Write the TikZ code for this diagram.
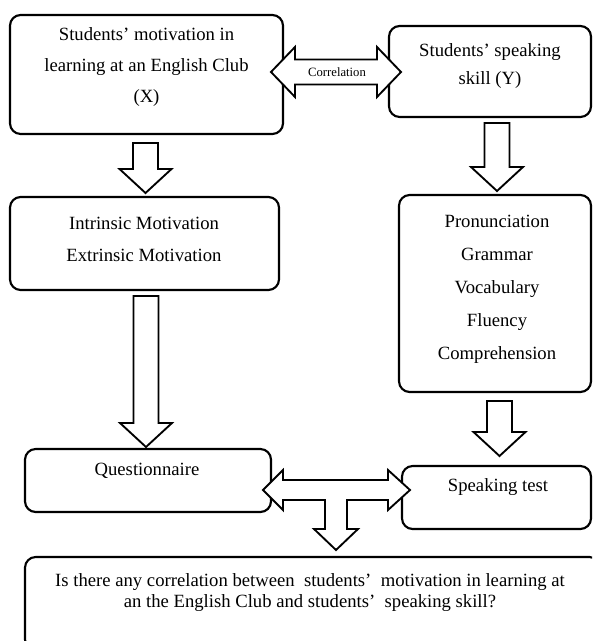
\documentclass[tikz,border=0pt]{standalone}
\usepackage{fontspec}
\setmainfont{Liberation Serif}
\usetikzlibrary{calc}

\tikzset{
  box/.style={draw=black, line width=1.6pt, rounded corners=8pt, inner sep=0pt},
  fat/.style={draw=black, line width=1.4pt, fill=white, line join=miter},
  txt/.style={align=center, inner sep=0pt, font=\fontsize{14}{23}\selectfont},
}

% fat block arrow pointing down, from top point #1 to tip #2
\newcommand{\fatdown}[2]{%
  \draw[fat] ($(#1)+(-12.5,0)$) -- ($(#1)+(12.5,0)$) -- ($(#2)+(12.5,-24)$)
    -- ($(#2)+(26,-24)$) -- (#2) -- ($(#2)+(-26,-24)$) -- ($(#2)+(-12.5,-24)$) -- cycle;}

\begin{document}
\begin{tikzpicture}[x=0.75pt, y=-0.75pt]

\clip (0,0) rectangle (592,641);

% variables
\node[box, minimum width=204.75pt, minimum height=89.25pt] (motiv) at (146.5,74.5) {};
\node[txt, font=\fontsize{14}{22.9}\selectfont] (motivtext) at (146.5,67) {Students’ motivation in\\learning at an English Club\\(X)};

\node[box, minimum width=151.5pt, minimum height=68.25pt] (speak) at (490,71.5) {};
\node[txt, font=\fontsize{14}{21}\selectfont] (speaktext) at (490,66) {Students’ speaking\\skill (Y)};

% indicators
\node[box, minimum width=201.75pt, minimum height=69.75pt] (intr) at (144.5,243.5) {};
\node[txt, font=\fontsize{14}{24}\selectfont] (intrtext) at (144,239) {Intrinsic Motivation\\Extrinsic Motivation};

\node[box, minimum width=144pt, minimum height=147.75pt] (compo) at (495,293.5) {};
\node[txt, font=\fontsize{14}{24.75}\selectfont] (compotext) at (497,289) {Pronunciation\\Grammar\\Vocabulary\\Fluency\\Comprehension};

% instruments
\node[box, minimum width=184.5pt, minimum height=47.25pt] (quest) at (148,480.5) {};
\node[txt] (questtext) at (147,471) {Questionnaire};

\node[box, minimum width=141.75pt, minimum height=47.25pt] (test) at (496.5,497.5) {};
\node[txt] (testtext) at (498,487) {Speaking test};

% research question
\node[box, minimum width=431.25pt, minimum height=69.75pt] (rq) at (312.5,603.5) {};
\node[txt, font=\fontsize{14}{15.75}\selectfont] (rqtext) at (310,592.5) {Is there any correlation between \ students’ \ motivation in learning at\\an the English Club and students’ \ speaking skill?};

% correlation arrow
\draw[fat] (271,72) -- (295,47) -- (295,59.5) -- (377,59.5) -- (377,47) -- (401,72)
  -- (377,97) -- (377,84.5) -- (295,84.5) -- (295,97) -- cycle;
\node[inner sep=0pt, font=\fontsize{9.5}{11}\selectfont] (corr) at (337,72) {Correlation};

% down arrows
\coordinate (a1top) at (145.5,143);
\coordinate (a1tip) at (145.5,193);
\fatdown{a1top}{a1tip}

\coordinate (a2top) at (497,123);
\coordinate (a2tip) at (497,191);
\fatdown{a2top}{a2tip}

\coordinate (a3top) at (146,296);
\coordinate (a3tip) at (146,447);
\fatdown{a3top}{a3tip}

\coordinate (a4top) at (499.5,401);
\coordinate (a4tip) at (499.5,456);
\fatdown{a4top}{a4tip}

% joined arrow to the question
\draw[fat] (263,490) -- (283,470) -- (283,480) -- (388,480) -- (388,470) -- (410,490)
  -- (388,510) -- (388,500) -- (347,500) -- (347,529) -- (358,529) -- (336,550)
  -- (314,529) -- (325,529) -- (325,500) -- (283,500) -- (283,510) -- cycle;

\end{tikzpicture}
\end{document}
